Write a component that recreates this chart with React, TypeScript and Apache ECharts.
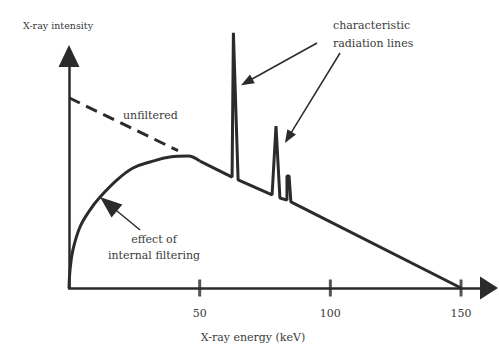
import React, { useEffect, useRef } from 'react';
import * as echarts from 'echarts';

// tick labels on the energy axis (keV)
const energyTicks = [50, 100, 150];

// unfiltered (Kramers) spectrum, dashed part
const unfilteredE = [0, 41.7];
const unfilteredI = [82, 59.2];

// filtered spectrum, curved low-energy part
const filteredE = [0, 0.4, 1.5, 4.2, 8.0, 11.9, 18.4, 24.5, 31.0, 38.6, 45.5, 50.1];
const filteredI = [0, 7.8, 16.4, 26.3, 33.6, 39.2, 46.6, 51.7, 54.3, 56.5, 56.9, 54.7];

// straight part with characteristic lines
const spectrumE = [50.1, 62.4, 62.9, 64.7, 77.7, 79.2, 80.7, 83.4, 83.4, 84.2, 84.9, 150];
const spectrumI = [54.7, 47.8, 110, 46.6, 40.1, 69.8, 38.8, 37.9, 48.3, 48.3, 37.1, 0];

// annotation arrows: [tailE, tailI, headE, headI]
const arrowChar1 = [94.9, 105.6, 68.0, 88.8];
const arrowChar2 = [103.7, 101.3, 83.9, 64.9];
const arrowFilter = [27.2, 25.0, 15.1, 36.2];

const FONT = 'DejaVu Serif, serif';
const INK = '#2b2b2b';
const TXT = '#3a3a3a';

export default function App() {
  const ref = useRef<HTMLDivElement>(null);
  useEffect(() => {
    document.body.style.margin = '0';
    const chart = echarts.init(ref.current as HTMLDivElement, null, { renderer: 'svg' });
    const zip = (a: number[], b: number[]) => a.map((v, i) => [v, b[i]]);
    const arrow = (a: number[], size: number[]) => [
      { coord: [a[0], a[1]], symbol: 'none' },
      { coord: [a[2], a[3]], symbol: 'triangle', symbolSize: size },
    ];
    const text = (t: string, x: number, y: number, size: number, align: string) => ({
      type: 'text',
      x,
      y,
      silent: true,
      style: {
        text: t,
        fill: TXT,
        fontSize: size,
        fontFamily: FONT,
        align,
        verticalAlign: 'middle',
      },
    });
    const option: any = {
      animation: false,
      backgroundColor: '#ffffff',
      textStyle: { fontFamily: FONT },
      grid: [
        { left: 69, right: 10, top: 56, bottom: 56 },
        { left: 69, right: 10, top: 30, bottom: 56 },
      ],
      xAxis: [
        {
          type: 'value',
          gridIndex: 0,
          min: 0,
          max: 160.7,
          interval: 50,
          axisLine: {
            show: true,
            lineStyle: { color: INK, width: 2.5 },
            symbol: ['none', 'triangle'],
            symbolSize: [23, 18],
          },
          axisTick: { show: false },
          splitLine: { show: false },
          axisLabel: {
            margin: 20,
            fontSize: 11,
            fontFamily: FONT,
            color: TXT,
            formatter: (v: number) => (energyTicks.includes(v) ? String(v) : ''),
          },
        },
        {
          type: 'value',
          gridIndex: 1,
          min: 0,
          max: 160.7,
          show: false,
        },
      ],
      yAxis: [
        {
          type: 'value',
          gridIndex: 0,
          min: 0,
          max: 100,
          axisLine: {
            show: true,
            lineStyle: { color: INK, width: 2.5 },
            symbol: ['none', 'triangle'],
            symbolSize: [21, 22],
          },
          axisTick: { show: false },
          axisLabel: { show: false },
          splitLine: { show: false },
        },
        {
          type: 'value',
          gridIndex: 1,
          min: 0,
          max: 111.207,
          show: false,
        },
      ],
      series: [
        {
          type: 'line',
          data: zip(unfilteredE, unfilteredI),
          symbol: 'none',
          clip: false,
          silent: true,
          lineStyle: { color: INK, width: 3, type: [12, 7] },
        },
        {
          type: 'line',
          data: zip(filteredE, filteredI),
          smooth: 0.4,
          symbol: 'none',
          clip: false,
          silent: true,
          lineStyle: { color: INK, width: 3 },
        },
        {
          type: 'line',
          data: zip(spectrumE, spectrumI),
          symbol: 'none',
          clip: false,
          silent: true,
          lineStyle: { color: INK, width: 3, join: 'bevel' },
        },
        {
          type: 'scatter',
          data: energyTicks.map((v) => [v, 0]),
          symbol: 'rect',
          symbolSize: [3, 17],
          clip: false,
          silent: true,
          itemStyle: { color: INK },
        },
        {
          type: 'line',
          xAxisIndex: 1,
          yAxisIndex: 1,
          data: [],
          symbol: 'none',
          silent: true,
          clip: false,
          markLine: {
            silent: true,
            symbol: ['none', 'triangle'],
            symbolSize: [10, 13],
            label: { show: false },
            lineStyle: { color: INK, width: 1.5, type: 'solid' },
            emphasis: { disabled: true },
            data: [arrow(arrowChar1, [10, 13]), arrow(arrowChar2, [10, 13]), arrow(arrowFilter, [17, 22])],
          },
        },
      ],
      graphic: [
        text('X-ray intensity', 58, 25, 9.5, 'center'),
        text('unfiltered', 123, 115, 11, 'left'),
        text('characteristic', 333, 25, 11, 'left'),
        text('radiation lines', 333, 43, 11, 'left'),
        text('effect of', 154, 239, 11, 'center'),
        text('internal filtering', 154, 255, 11, 'center'),
        text('X-ray energy (keV)', 253, 337, 11, 'center'),
      ],
    };
    chart.setOption(option);
    return () => chart.dispose();
  }, []);
  return <div ref={ref} style={{ position: 'fixed', left: 0, top: 0, width: 499, height: 344 }} />;
}
